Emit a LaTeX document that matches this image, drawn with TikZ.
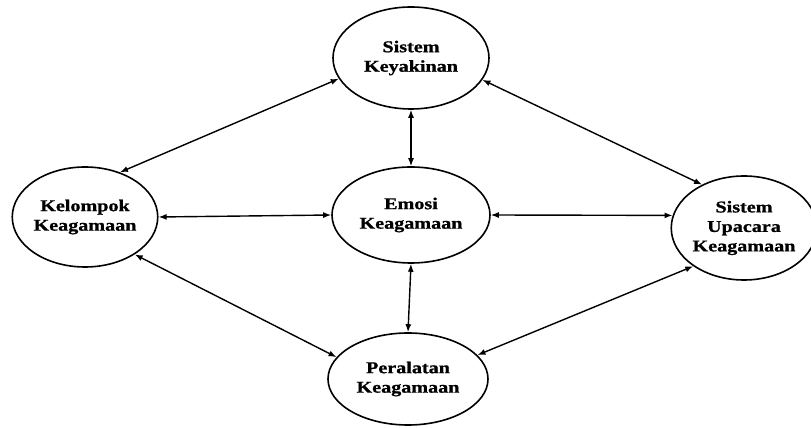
\documentclass[tikz,border=0pt]{standalone}
\usepackage{fontspec}
\setmainfont{Liberation Serif}[FakeStretch=1.22, BoldFeatures={FakeBold=1}]
\usetikzlibrary{shapes.geometric,arrows.meta}
\begin{document}
\begin{tikzpicture}[x=1pt,y=1pt,
  bubble/.style={ellipse, draw, line width=1.6pt, inner sep=0pt,
    align=center, font=\fontsize{16.5}{19.5}\selectfont\bfseries},
  link/.style={line width=1.4pt, {Latex[length=8pt,width=6pt]}-{Latex[length=8pt,width=6pt]}}]
  \useasboundingbox (0,0) rectangle (811,428);
  % five elements of religion
  \node[bubble, minimum width=156pt, minimum height=102pt] (yakin) at (411,370) {Sistem\\Keyakinan};
  \node[bubble, minimum width=144pt, minimum height=100pt] (kelompok) at (85,211) {Kelompok\\Keagamaan};
  \node[bubble, minimum width=158pt, minimum height=96pt] (emosi) at (411,213) {Emosi\\Keagamaan};
  \node[bubble, minimum width=136pt, minimum height=104pt] (upacara) at (744,200) {Sistem\\Upacara\\Keagamaan};
  \node[bubble, minimum width=160pt, minimum height=92pt] (alat) at (408,49) {Peralatan\\Keagamaan};
  % relations
  \draw[link] (yakin.196) -- (kelompok.52);
  \draw[link] (yakin.343) -- (upacara.134);
  \draw[link] (kelompok.323) -- (alat.163);
  \draw[link] (alat.19) -- (upacara.217);
  \draw[link] (yakin.south) -- (emosi.north);
  \draw[link] (emosi.south) -- (alat.north);
  \draw[link] (kelompok.east) -- (emosi.west);
  \draw[link] (emosi.east) -- (upacara.170);
\end{tikzpicture}
\end{document}
